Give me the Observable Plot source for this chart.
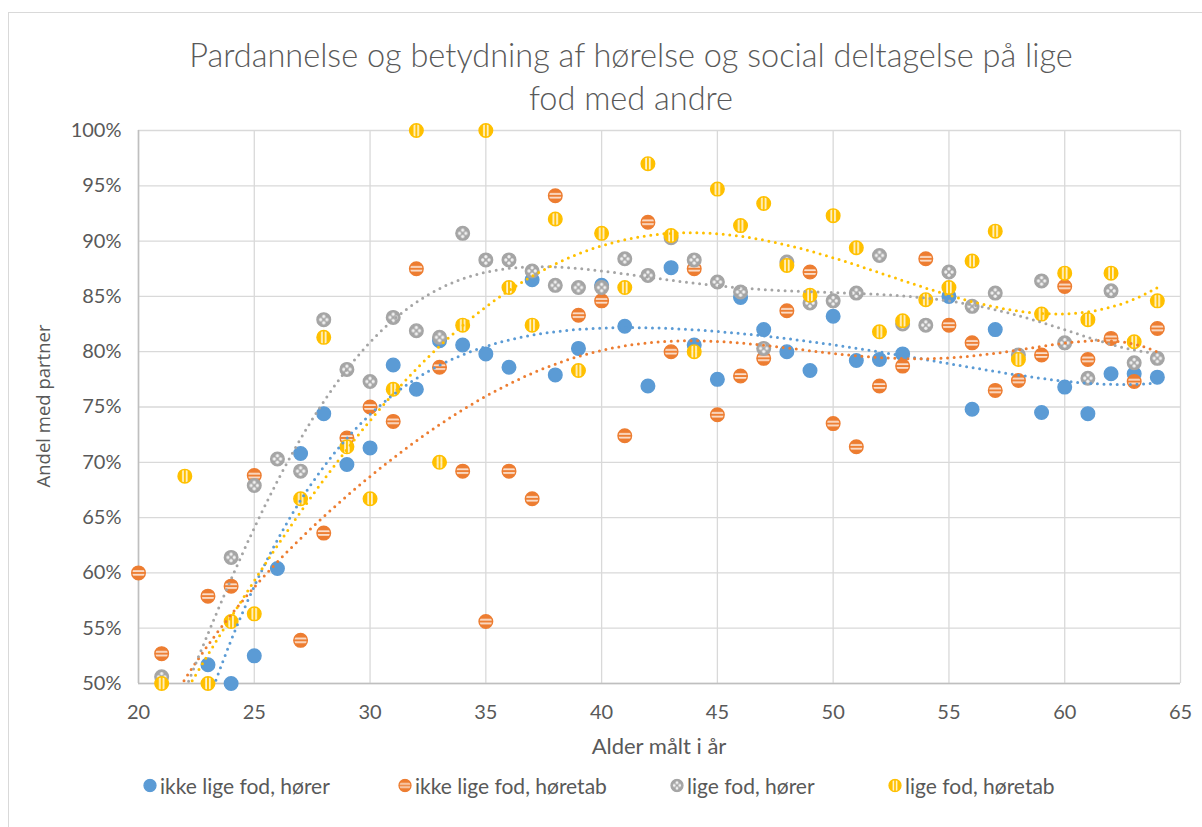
<!DOCTYPE html>
<html>
<head>
<meta charset="utf-8">
<script src="https://cdn.jsdelivr.net/npm/d3@7"></script>
<script src="https://cdn.jsdelivr.net/npm/@observablehq/plot@0.6"></script>
<style>
  html, body { margin: 0; padding: 0; background: #fff; }
  #wrap { position: relative; width: 1202px; height: 827px; font-family: Lato, "Noto Sans", sans-serif; color: #595959; overflow: hidden; }
  #frame { position: absolute; left: 8px; top: 12px; width: 1200px; height: 820px; border: 1px solid #d9d9d9; box-sizing: border-box; }
  #title { position: absolute; left: 131px; width: 1000px; top: 33px; text-align: center; font-size: 32.5px; line-height: 43px; font-weight: 300; color: #595959; }
  #ytitle { position: absolute; left: 42px; top: 406px; transform: translate(-50%, -50%) rotate(-90deg); white-space: nowrap; font-family: "Open Sans", sans-serif; font-size: 18.5px; color: #595959; }
  #xtitle { position: absolute; left: 659px; top: 745px; transform: translate(-50%, -50%); white-space: nowrap; font-size: 22px; color: #595959; }
  #plot { position: absolute; left: 0; top: 110px; }
  .leg { position: absolute; top: 785px; transform: translateY(-50%); display: flex; align-items: center; font-size: 21px; white-space: nowrap; color: #595959; }
  .leg svg { margin-right: 3px; }
</style>
</head>
<body>
<svg width="0" height="0" style="position:absolute">
  <defs>
    <pattern id="patO" patternContentUnits="objectBoundingBox" width="1" height="1">
      <rect width="1" height="1" fill="#ED7D31"/>
      <rect x="0" y="0.30" width="1" height="0.13" fill="#fbe1cf"/>
      <rect x="0" y="0.57" width="1" height="0.13" fill="#fbe1cf"/>
    </pattern>
    <pattern id="patY" patternContentUnits="objectBoundingBox" width="1" height="1">
      <rect width="1" height="1" fill="#FFC000"/>
      <rect y="0" x="0.30" height="1" width="0.13" fill="#fff2cc"/>
      <rect y="0" x="0.57" height="1" width="0.13" fill="#fff2cc"/>
    </pattern>
    <pattern id="patG" patternContentUnits="objectBoundingBox" width="1" height="1">
      <rect width="1" height="1" fill="#A5A5A5"/>
      <circle cx="0.5" cy="0.27" r="0.12" fill="#f2f2f2"/>
      <circle cx="0.27" cy="0.5" r="0.12" fill="#f2f2f2"/>
      <circle cx="0.73" cy="0.5" r="0.12" fill="#f2f2f2"/>
      <circle cx="0.5" cy="0.73" r="0.12" fill="#f2f2f2"/>
    </pattern>
  </defs>
</svg>
<div id="wrap">
  <div id="frame"></div>
  <div id="title">Pardannelse og betydning af hørelse og social deltagelse på lige<br>fod med andre</div>
  <div id="ytitle">Andel med partner</div>
  <div id="xtitle">Alder målt i år</div>
  <div id="plot"></div>
  <div id="legend"></div>
</div>
<script>
// ---- data (ages 19..64; values below 50 % or before age 20 lie outside the axes and are hidden, estimated from the trendlines) ----
const ages = [19,20,21,22,23,24,25,26,27,28,29,30,31,32,33,34,35,36,37,38,39,40,41,42,43,44,45,46,47,48,49,50,51,52,53,54,55,56,57,58,59,60,61,62,63,64];

const ikkeLigeHorer = [null,null,30.9,48.1,51.7,50.0,52.5,60.4,70.8,74.4,69.8,71.3,78.8,76.6,81.0,80.6,79.8,78.6,86.5,77.9,80.3,86.0,82.3,76.9,87.6,80.6,77.5,84.9,82.0,80.0,78.3,83.2,79.2,79.3,79.8,null,85.0,74.8,82.0,null,74.5,76.8,74.4,78.0,78.0,77.7];

const ikkeLigeHoretab = [28.5,60.0,52.7,29.6,57.9,58.8,68.8,49.0,53.9,63.6,72.2,75.0,73.7,87.5,78.6,69.2,55.6,69.2,66.7,94.1,83.3,84.6,72.4,91.7,80.0,87.5,74.3,77.8,79.4,83.7,87.2,73.5,71.4,76.9,78.7,88.4,82.4,80.8,76.5,77.4,79.7,85.9,79.3,81.2,77.3,82.1];

const ligeHorer = [null,null,50.6,41.6,49.0,61.4,67.9,70.3,69.2,82.9,78.4,77.3,83.1,81.9,81.3,90.7,88.3,88.3,87.3,86.0,85.8,85.8,88.4,86.9,90.3,88.3,86.3,85.4,80.3,88.1,84.4,84.6,85.3,88.7,82.5,82.4,87.2,84.1,85.3,79.7,86.4,80.8,77.6,85.5,79.0,79.4];

const ligeHoretab = [null,34.9,50.0,68.75,50.0,55.6,56.3,29.5,66.7,81.3,71.4,66.7,76.6,100,70.0,82.4,100,85.8,82.4,92.0,78.3,90.7,85.8,97.0,90.5,80.0,94.7,91.4,93.4,87.8,85.1,92.3,89.4,81.8,82.8,84.7,85.8,88.2,90.9,79.3,83.4,87.1,82.9,87.1,80.9,84.6];

const seriesNames = ["ikke lige fod, hører", "ikke lige fod, høretab", "lige fod, hører", "lige fod, høretab"];
const seriesValues = [ikkeLigeHorer, ikkeLigeHoretab, ligeHorer, ligeHoretab];
const trendOrder = [5, 6, 6, 4];
const colors = ["#5B9BD5", "#ED7D31", "#A5A5A5", "#FFC000"];
const fills = ["#5B9BD5", "url(#patO)", "url(#patG)", "url(#patY)"];

const xTicks = [20,25,30,35,40,45,50,55,60,65];
const yTicks = [50,55,60,65,70,75,80,85,90,95,100];

// ---- polynomial trendline (least squares) ----
function polyfit(xs, ys, deg) {
  const c = d3.mean(xs), s = (d3.max(xs) - d3.min(xs)) / 2;
  const u = xs.map(x => (x - c) / s);
  const n = deg + 1;
  const A = Array.from({length: n}, () => new Array(n + 1).fill(0));
  for (let k = 0; k < u.length; k++) {
    for (let i = 0; i < n; i++) {
      for (let j = 0; j < n; j++) A[i][j] += Math.pow(u[k], i + j);
      A[i][n] += ys[k] * Math.pow(u[k], i);
    }
  }
  for (let i = 0; i < n; i++) {
    let p = i;
    for (let r = i + 1; r < n; r++) if (Math.abs(A[r][i]) > Math.abs(A[p][i])) p = r;
    [A[i], A[p]] = [A[p], A[i]];
    for (let r = 0; r < n; r++) {
      if (r === i) continue;
      const f = A[r][i] / A[i][i];
      for (let cc = i; cc <= n; cc++) A[r][cc] -= f * A[i][cc];
    }
  }
  const coef = A.map((row, i) => row[n] / row[i]);
  return x => { const t = (x - c) / s; return coef.reduce((acc, a, i) => acc + a * Math.pow(t, i), 0); };
}

const points = [];
const trends = [];
seriesValues.forEach((vals, si) => {
  const xs = [], ys = [];
  vals.forEach((v, i) => {
    if (v == null) return;
    xs.push(ages[i]); ys.push(v);
    if (ages[i] >= 20 && v >= 50) points.push({age: ages[i], value: v, s: si});
  });
  const f = polyfit(xs, ys, trendOrder[si]);
  const x0 = d3.min(xs), x1 = d3.max(xs);
  for (let x = x0; x <= x1 + 1e-9; x += 0.1) trends.push({age: x, value: f(x), s: si});
});

const plot = Plot.plot({
  width: 1202,
  height: 660,
  marginTop: 20,
  marginBottom: 87,
  marginLeft: 138,
  marginRight: 22,
  x: {domain: [20, 65]},
  y: {domain: [50, 100]},
  style: {fontFamily: "Lato, sans-serif", overflow: "visible", background: "transparent"},
  marks: [
    Plot.gridX(xTicks, {stroke: "#d9d9d9", strokeOpacity: 1, strokeWidth: 1.3}),
    Plot.gridY(yTicks, {stroke: "#d9d9d9", strokeOpacity: 1, strokeWidth: 1.3}),
    Plot.ruleY([50], {stroke: "#bfbfbf", strokeWidth: 1.6}),
    Plot.ruleX([20], {stroke: "#bfbfbf", strokeWidth: 1.6}),
    Plot.axisX(xTicks, {tickSize: 0, tickPadding: 21, fontSize: 20, fill: "#595959", label: null, tickFormat: d => String(d)}),
    Plot.axisY(yTicks, {tickSize: 0, tickPadding: 17, fontSize: 20, fill: "#595959", label: null, tickFormat: d => d + "%"}),
    ...[0,1,2,3].map(si => Plot.dot(points.filter(p => p.s === si), {
      x: "age", y: "value", r: 6.8, fill: fills[si], stroke: colors[si], strokeWidth: 1.4
    })),
    ...[0,1,2,3].map(si => Plot.line(trends.filter(p => p.s === si), {
      x: "age", y: "value", stroke: colors[si], strokeWidth: 3, strokeDasharray: "0 6.6",
      strokeLinecap: "round", clip: true
    }))
  ]
});
document.getElementById("plot").appendChild(plot);

// ---- legend ----
const legPos = [150, 405, 677, 895];
const legend = document.getElementById("legend");
seriesNames.forEach((name, i) => {
  const item = document.createElement("div");
  item.className = "leg";
  item.style.left = (legPos[i] - 7) + "px";
  item.innerHTML = `<svg width="14" height="14"><circle cx="7" cy="7" r="6" fill="${fills[i]}" stroke="${colors[i]}" stroke-width="1.3"/></svg><span>${name}</span>`;
  legend.appendChild(item);
});
</script>
</body>
</html>
